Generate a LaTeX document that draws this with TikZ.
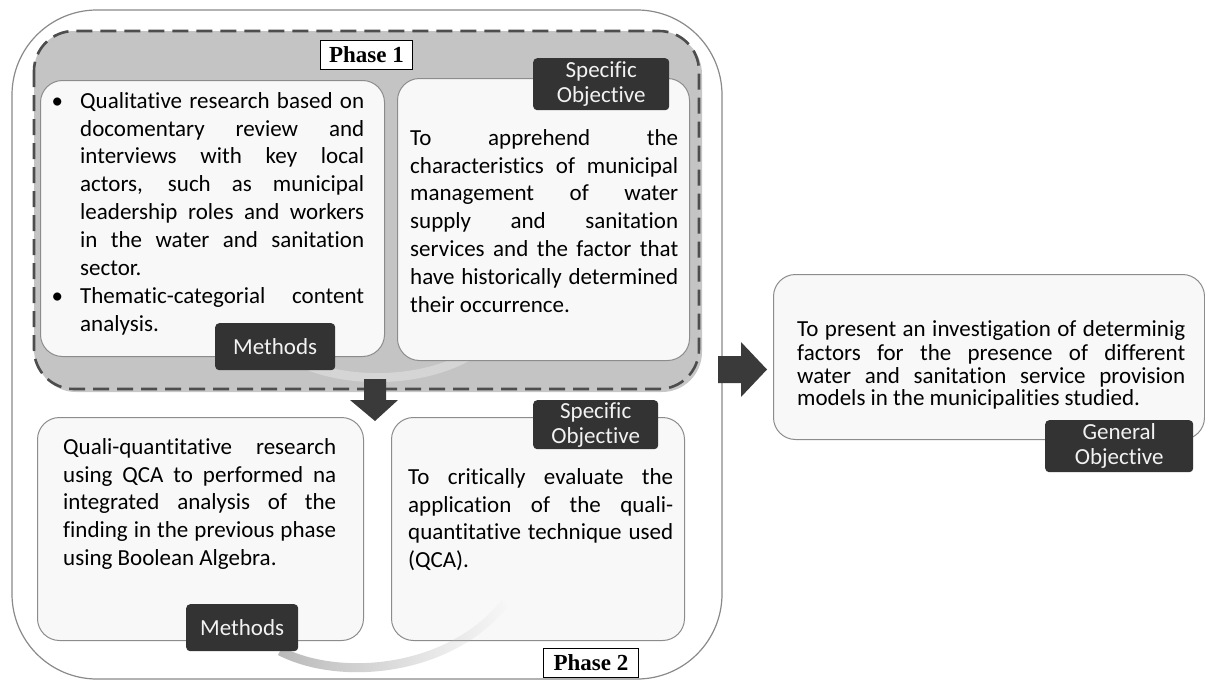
\documentclass[tikz,border=0pt]{standalone}
\usepackage{fontspec}
\setmainfont{Carlito}[Ligatures=NoCommon]
\newfontfamily\phasefont{Liberation Serif}
\usetikzlibrary{fadings}
\definecolor{lblfill}{HTML}{333333}
\definecolor{lbltext}{HTML}{F2F2F2}
\definecolor{cardfill}{HTML}{F8F8F8}
\definecolor{cardedge}{HTML}{8C8C8C}
\definecolor{phfill}{HTML}{C4C4C4}
\definecolor{dashcol}{HTML}{4D4D4D}
\definecolor{outeredge}{HTML}{8A8A8A}
\definecolor{arrowcol}{HTML}{3A3A3A}
\tikzfading[name=myfade, left color=transparent!0, right color=transparent!100]
\tikzset{
  card/.style={draw=cardedge, line width=1pt, fill=cardfill, rounded corners=22pt, inner sep=0pt, anchor=north west},
  lbl/.style={fill=lblfill, rounded corners=4pt, text=lbltext, inner sep=0pt, anchor=north west, align=center,
    font=\fontsize{23}{25}\selectfont},
  body/.style={text width=#1, align=justify, inner sep=0pt, anchor=north west,
    font=\fontsize{23}{27.9}\selectfont},
  phaselbl/.style={draw=black, line width=1pt, fill=white, inner sep=0pt, anchor=north west,
    font=\phasefont\bfseries\fontsize{23}{25}\selectfont},
  blockarrow/.style={fill=arrowcol, draw=none}
}
\begin{document}
\begin{tikzpicture}[x=1pt,y=-1pt]
\useasboundingbox (0,0) rectangle (1205,680);
\fill[white] (0,0) rectangle (1205,680);
\hyphenpenalty=10000 \exhyphenpenalty=10000
% outer frame
\draw[outeredge, line width=1.2pt, rounded corners=85pt] (12,10) rectangle (722,679);
% phase 1 dashed area with shadow
\fill[black, opacity=0.22, rounded corners=40pt] (36,34) rectangle (702,392);
\draw[dashcol, fill=phfill, line width=2.6pt, dash pattern=on 16pt off 8pt, rounded corners=40pt] (34,31) rectangle (699,389);
% light swoosh in phase 1
\draw[white, opacity=0.3, line width=9pt] (300,362) .. controls (350,386) and (430,382) .. (475,352);
% cards
\node[card, minimum width=344pt, minimum height=276pt] (m1) at (40,80) {};
\node[card, minimum width=292pt, minimum height=282pt] (s1) at (397,78) {};
\node[card, minimum width=326pt, minimum height=223pt] (m2) at (37,417) {};
\node[card, minimum width=293pt, minimum height=223pt] (s2) at (391,417) {};
\node[card, minimum width=431pt, minimum height=165pt] (go) at (773,274) {};
% swoosh in phase 2
\draw[gray!55, line width=9pt, path fading=myfade] (280,651) .. controls (340,682) and (450,672) .. (505,603);
% texts
\node[body=284pt] (m1t) at (80,88.4) {\parindent=0pt\strut\llap{\textbullet\hspace{17pt}}Qualitative research based on\linebreak
docomentary review and\linebreak interviews with key local\linebreak actors, such as municipal\linebreak
leadership roles and workers\linebreak in the water and sanitation\linebreak sector.\par
\leavevmode\llap{\textbullet\hspace{17pt}}Thematic-categorial content\linebreak analysis.};
\node[body=268pt] (s1t) at (410,125.4) {\parindent=0pt\strut To apprehend the\linebreak characteristics of municipal\linebreak
management of water\linebreak supply and sanitation\linebreak services and the factor that\linebreak
have historically determined\linebreak their occurrence.};
\node[body=273pt] (m2t) at (63,434.4) {\parindent=0pt\strut Quali-quantitative research\linebreak using QCA to performed na\linebreak
integrated analysis of the\linebreak finding in the previous phase\linebreak using Boolean Algebra.};
\node[body=265pt] (s2t) at (408,464.4) {\parindent=0pt\strut To critically evaluate the\linebreak application of the quali-\linebreak
quantitative technique used\linebreak (QCA).};
\node[body=388pt, font=\fontsize{23}{22.5}\selectfont] (got) at (797,320.7) {\parindent=0pt\strut To present an investigation of determinig\linebreak
factors for the presence of different\linebreak water and sanitation service provision\linebreak models in the municipalities studied.};
% labels
\node[lbl, minimum width=120pt, minimum height=47pt] (m1l) at (215,323) {Methods};
\node[lbl, minimum width=136pt, minimum height=52pt] (s1l) at (533,58) {Specific\\Objective};
\node[lbl, minimum width=112pt, minimum height=47pt] (m2l) at (186,604) {Methods};
\node[lbl, minimum width=125pt, minimum height=49pt] (s2l) at (533,400) {Specific\\Objective};
\node[lbl, minimum width=148pt, minimum height=52pt] (gol) at (1045,420) {General\\Objective};
\node[phaselbl, minimum width=92pt, minimum height=29pt] (p1) at (320,40) {Phase 1};
\node[phaselbl, minimum width=95pt, minimum height=29pt] (p2) at (543,648) {Phase 2};
% block arrows
\fill[blockarrow] (364,379) -- (386,379) -- (386,400) -- (398,400) -- (375,421) -- (350,400) -- (364,400) -- cycle;
\fill[blockarrow] (718,356) -- (741,356) -- (741,342) -- (767,369.5) -- (741,397) -- (741,383) -- (718,383) -- cycle;
\end{tikzpicture}
\end{document}
